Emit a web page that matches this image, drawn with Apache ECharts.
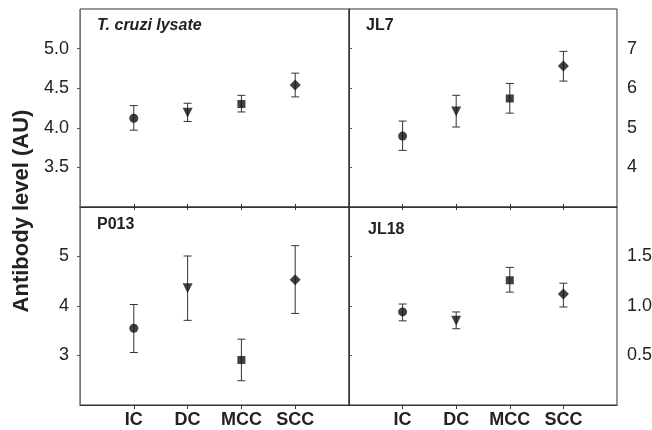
<!DOCTYPE html>
<html>
<head>
<meta charset="utf-8">
<script src="https://cdn.jsdelivr.net/npm/echarts@6/dist/echarts.min.js"></script>
<style>
  html, body { margin: 0; padding: 0; background: #fff; }
  #main { width: 652px; height: 430px; }
</style>
</head>
<body>
<div id="main"></div>
<script>
// groups along the x axis
const categories = ['IC', 'DC', 'MCC', 'SCC'];
const symbols = ['circle', 'triangle', 'rect', 'diamond'];

// T. cruzi lysate
const lysateMean = [4.12, 4.19, 4.30, 4.54];
const lysateLow = [3.97, 4.08, 4.20, 4.39];
const lysateHigh = [4.28, 4.31, 4.41, 4.69];

// JL7
const jl7Mean = [4.79, 5.41, 5.74, 6.56];
const jl7Low = [4.43, 5.02, 5.37, 6.18];
const jl7High = [5.17, 5.82, 6.12, 6.93];

// P013
const p013Mean = [3.55, 4.36, 2.91, 4.53];
const p013Low = [3.06, 3.71, 2.49, 3.85];
const p013High = [4.03, 5.01, 3.33, 5.22];

// JL18
const jl18Mean = [0.94, 0.85, 1.26, 1.12];
const jl18Low = [0.85, 0.77, 1.14, 0.99];
const jl18High = [1.02, 0.94, 1.39, 1.23];

const panels = [
  { title: 'T. cruzi lysate', italic: true, mean: lysateMean, low: lysateLow, high: lysateHigh,
    min: 3.0, max: 5.5, interval: 0.5, digits: 1, side: 'left', bottom: false },
  { title: 'JL7', mean: jl7Mean, low: jl7Low, high: jl7High,
    min: 3, max: 8, interval: 1, digits: 0, side: 'right', bottom: false },
  { title: 'P013', mean: p013Mean, low: p013Low, high: p013High,
    min: 2, max: 6, interval: 1, digits: 0, side: 'left', bottom: true },
  { title: 'JL18', mean: jl18Mean, low: jl18Low, high: jl18High,
    min: 0, max: 2, interval: 0.5, digits: 1, side: 'right', bottom: true }
];

const gridPos = [
  { left: 80, top: 9, width: 269, height: 198 },
  { left: 349, top: 9, width: 268, height: 198 },
  { left: 80, top: 207, width: 269, height: 198 },
  { left: 349, top: 207, width: 268, height: 198 }
];
const titlePos = [[97, 18], [366, 18], [97, 217], [368, 222]];

const frame = '#333';
const ink = '#111';

let grids = [], xAxes = [], yAxes = [], series = [], titles = [];

panels.forEach(function (p, i) {
  grids.push(Object.assign({ show: true, borderColor: frame, borderWidth: 1,
    containLabel: false, outerBoundsMode: 'none' }, gridPos[i]));
  titles.push({
    text: p.title, left: titlePos[i][0], top: titlePos[i][1], padding: 0,
    textStyle: { fontFamily: 'Liberation Sans', fontSize: 16, fontWeight: 'bold',
      fontStyle: p.italic ? 'italic' : 'normal', color: '#222' }
  });
  // main x axis at the bottom of each panel
  xAxes.push({
    gridIndex: i, type: 'value', min: 0, max: 5, interval: 1, position: 'bottom',
    axisLine: { show: true, lineStyle: { color: frame } },
    axisTick: { show: true, inside: !p.bottom, length: p.bottom ? 4 : 3,
      lineStyle: { color: frame },
      customValues: [1, 2, 3, 4] },
    axisLabel: { show: p.bottom, margin: 6, fontFamily: 'Liberation Sans', fontSize: 18,
      fontWeight: 'bold', color: '#222', customValues: [1, 2, 3, 4],
      formatter: function (v) { return categories[Math.round(v) - 1] || ''; } },
    splitLine: { show: false }
  });
  yAxes.push({
    gridIndex: i, type: 'value', min: p.min, max: p.max, interval: p.interval,
    position: p.side,
    axisLine: { show: true, lineStyle: { color: p.side === 'left' ? '#777' : frame } },
    axisTick: { show: true, length: 3, lineStyle: { color: '#555' } },
    axisLabel: { margin: p.side === 'left' ? 11 : 10, fontFamily: 'Liberation Sans', fontSize: 18,
      color: '#222', showMinLabel: false, showMaxLabel: false,
      formatter: function (v) { return v.toFixed(p.digits); } },
    splitLine: { show: false }
  });
  series.push({
    type: 'custom', xAxisIndex: i, yAxisIndex: i, silent: true, z: 2,
    data: categories.map(function (c, k) { return [k + 1, p.low[k], p.high[k]]; }),
    renderItem: function (params, api) {
      const lo = api.coord([api.value(0), api.value(1)]);
      const hi = api.coord([api.value(0), api.value(2)]);
      const w = 4;
      const st = { stroke: '#333', lineWidth: 1 };
      return { type: 'group', children: [
        { type: 'line', shape: { x1: lo[0], y1: lo[1], x2: hi[0], y2: hi[1] }, style: st },
        { type: 'line', shape: { x1: lo[0] - w, y1: lo[1], x2: lo[0] + w, y2: lo[1] }, style: st },
        { type: 'line', shape: { x1: hi[0] - w, y1: hi[1], x2: hi[0] + w, y2: hi[1] }, style: st }
      ] };
    }
  });
  series.push({
    type: 'scatter', xAxisIndex: i, yAxisIndex: i, silent: true, z: 3,
    data: categories.map(function (c, k) {
      return {
        value: [k + 1, p.mean[k]],
        symbol: symbols[k],
        symbolSize: [9, 10, 8, 11][k],
        symbolRotate: k === 1 ? 180 : 0
      };
    }),
    itemStyle: { color: ink }
  });
});

// extra tick-only axes on top of the lower panels (ticks cross the divider)
[2, 3].forEach(function (i) {
  xAxes.push({
    gridIndex: i, type: 'value', min: 0, max: 5, interval: 1, position: 'top',
    axisLine: { show: false },
    axisTick: { show: true, inside: true, length: 3, lineStyle: { color: frame },
      customValues: [1, 2, 3, 4] },
    axisLabel: { show: false },
    splitLine: { show: false }
  });
});

const chart = echarts.init(document.getElementById('main'));
chart.setOption({
  animation: false,
  backgroundColor: '#fff',
  title: titles,
  grid: grids,
  xAxis: xAxes,
  yAxis: yAxes,
  series: series,
  graphic: [{
    type: 'text', x: 22, y: 211, rotation: Math.PI / 2,
    style: { text: 'Antibody level (AU)', fontFamily: 'Liberation Sans', fontSize: 22,
      fontWeight: 'bold', fill: '#222', textAlign: 'center', textVerticalAlign: 'middle' }
  }]
});
</script>
</body>
</html>
